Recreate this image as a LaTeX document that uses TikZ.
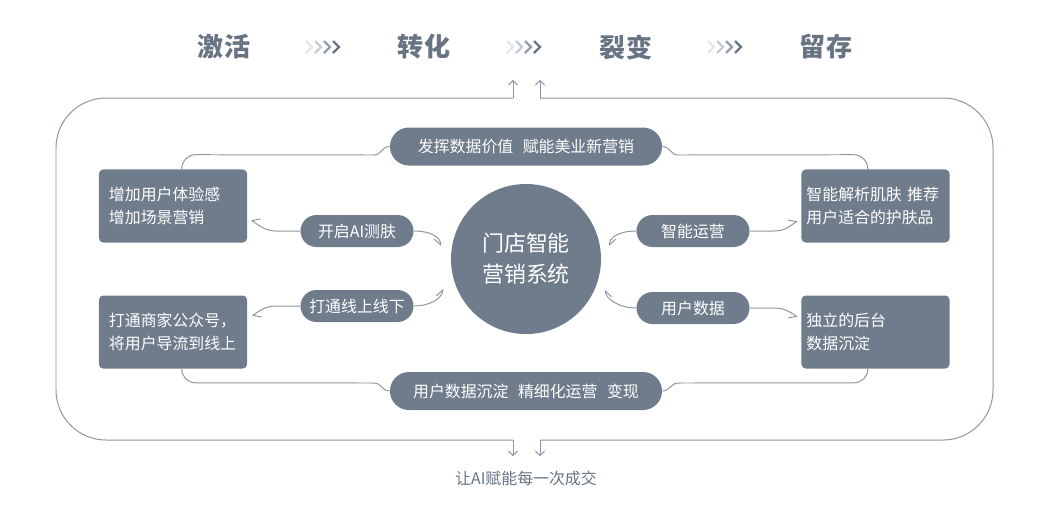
\documentclass[tikz,border=0pt]{standalone}
\usepackage{fontspec}
\setmainfont{Noto Sans CJK SC}
\usetikzlibrary{arrows.meta,calc}

\definecolor{slate}{RGB}{111,124,140}
\definecolor{wire}{RGB}{140,150,163}
\definecolor{titlegray}{RGB}{104,116,131}
\definecolor{chevA}{RGB}{226,230,235}
\definecolor{chevB}{RGB}{196,203,212}
\definecolor{chevC}{RGB}{148,158,171}
\definecolor{chevD}{RGB}{104,117,133}

\tikzset{
  box/.style={fill=slate, rounded corners=3pt, minimum width=3.7cm, minimum height=1.825cm,
    text=white, text width=3.2cm, inner xsep=0.25cm, align=left,
    font=\fontsize{11.3}{16.5}\selectfont},
  pill/.style={fill=slate, rounded corners=0.4cm, minimum width=2.825cm, minimum height=0.8cm,
    text=white, font=\fontsize{11.3}{13}\selectfont},
  bigpill/.style={pill, rounded corners=0.475cm, minimum width=6.8cm, minimum height=0.95cm},
  hub/.style={circle, fill=slate, minimum size=3.75cm, text=white, align=center,
    font=\fontsize{15.6}{22}\selectfont},
  title/.style={text=titlegray, font=\fontsize{18.5}{20}\selectfont\bfseries},
  link/.style={draw=wire, line width=0.7pt},
  barbR/.style={-{Straight Barb[right,length=4pt,width=9pt]}},
  barbL/.style={-{Straight Barb[left,length=4pt,width=9pt]}},
  barb/.style={-{Straight Barb[length=3pt,width=6.5pt]}}
}

\begin{document}
\begin{tikzpicture}[x=0.025cm, y=-0.025cm]
  \useasboundingbox (0,0) rectangle (1053,529);

  % Stages
  \node[title] (act) at (224,47) {激活};
  \node[title] (conv) at (424,47) {转化};
  \node[title] (fiss) at (626,47) {裂变};
  \node[title] (keep) at (826,47) {留存};
  \foreach \cx in {306,507,708}
    \foreach \k/\col in {0/chevA,1/chevB,2/chevC,3/chevD}
      \draw[\col, line width=1.6pt] (\cx+\k*9,41) -- ++(6,6) -- ++(-6,6);

  % Frame
  \coordinate (upL) at (513,80);
  \coordinate (upR) at (540,80);
  \coordinate (downL) at (513,456);
  \coordinate (downR) at (540,456);
  \draw[link, rounded corners=1.25cm] (513,98) -- (56,98) -- (56,440) -- (513,440);
  \draw[link, rounded corners=1.25cm] (540,98) -- (993,98) -- (993,440) -- (540,440);
  \draw[link, barb] (513,98) -- (upL);
  \draw[link, barb] (540,98) -- (upR);
  \draw[link, barb] (513,440) -- (downL);
  \draw[link, barb] (540,440) -- (downR);
  \node[text=titlegray, font=\fontsize{11.3}{13}\selectfont] (deal) at (526,478) {让AI赋能每一次成交};

  % Nodes
  \node[hub] (hub) at (526,259) {门店智能\\营销系统};
  \node[bigpill] (toppill) at (526,146.5) {发挥数据价值\hspace{0.6em}赋能美业新营销};
  \node[bigpill] (botpill) at (526,391) {用户数据沉淀\hspace{0.6em}精细化运营\hspace{0.6em}变现};
  \node[box] (box1) at (173,206) {增加用户体验感\\增加场景营销};
  \node[box] (box2) at (173,332) {打通商家公众号，\\将用户导流到线上};
  \node[box, text width=3.45cm, inner xsep=0.125cm] (box3) at (875.5,206) {智能解析肌肤~推荐\\用户适合的护肤品};
  \node[box, text width=3.45cm, inner xsep=0.125cm] (box4) at (875.5,332) {独立的后台\\数据沉淀};
  \node[pill] (p1) at (357,231) {开启AI测肤};
  \node[pill] (p2) at (357,306) {打通线上线下};
  \node[pill] (p3) at (693,231) {智能运营};
  \node[pill] (p4) at (693,308) {用户数据};

  % Bus lines
  \coordinate (b1top) at ($(box1.north west)+(83,0)$);
  \coordinate (b2bot) at ($(box2.south west)+(83,0)$);
  \coordinate (b3top) at ($(box3.north east)+(-82,0)$);
  \coordinate (b4bot) at ($(box4.south east)+(-82,0)$);
  \draw[link] (toppill.west) .. controls +(-8,0) and +(8,0) .. ($(toppill.west)+(-16,8.5)$)
    -- ($(b1top)+(14,-14.5)$) .. controls +(-8,0) and +(0,-8) .. (b1top);
  \draw[link] (toppill.east) .. controls +(8,0) and +(-8,0) .. ($(toppill.east)+(16,8.5)$)
    -- ($(b3top)+(-14,-14.5)$) .. controls +(8,0) and +(0,-8) .. (b3top);
  \draw[link] (b2bot) .. controls +(0,8) and +(-8,0) .. ($(b2bot)+(14,14)$)
    -- ($(botpill.west)+(-16,-8)$) .. controls +(8,0) and +(-8,0) .. (botpill.west);
  \draw[link] (b4bot) .. controls +(0,8) and +(8,0) .. ($(b4bot)+(-14,14)$)
    -- ($(botpill.east)+(16,-8)$) .. controls +(-8,0) and +(8,0) .. (botpill.east);

  % Branches
  \draw[link, barbR] (p1.west) -- ++(-24,0) .. controls +(-10,0) and +(8,6) .. ($(box1.east)+(4,14)$);
  \draw[link, barbR] (p1.east) .. controls +(18,0) and +(0,-8) .. ($(hub.west)+(-10,-13)$);
  \draw[link, barbL] (p2.west) -- ++(-24,0) .. controls +(-10,0) and +(8,-6) .. ($(box2.east)+(5,-16)$);
  \draw[link, barbL] (p2.east) .. controls +(18,0) and +(0,8) .. ($(hub.west)+(-8,30)$);
  \draw[link, barbL] (p3.west) .. controls +(-18,0) and +(0,-8) .. ($(hub.east)+(8,-13)$);
  \draw[link, barbL] (p3.east) -- ++(24,0) .. controls +(10,0) and +(-8,6) .. ($(box3.west)+(-4,15)$);
  \draw[link, barbR] (p4.west) .. controls +(-18,0) and +(0,8) .. ($(hub.east)+(4,31)$);
  \draw[link, barbR] (p4.east) -- ++(24,0) .. controls +(10,0) and +(-8,-6) .. ($(box4.west)+(-4,-15)$);
\end{tikzpicture}
\end{document}
